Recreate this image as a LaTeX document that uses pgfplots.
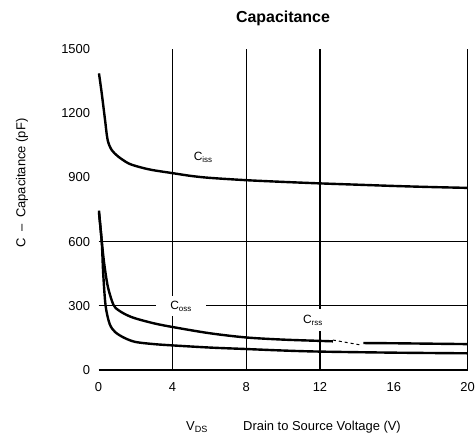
\documentclass[border=0pt]{standalone}
\usepackage{pgfplots}
\pgfplotsset{compat=1.18}
\usepackage{fontspec}
\setmainfont{Liberation Sans}
\begin{document}
\begin{tikzpicture}
\begin{axis}[
  at={(0,0)}, anchor=south west,
  scale only axis, width=369bp, height=321bp,
  xmin=0, xmax=20, ymin=0, ymax=1500,
  xtick={0,4,...,20}, ytick={0,300,...,1500},
  axis line style={draw=none},
  major tick length=0pt,
  tick label style={font=\fontsize{13}{15}\selectfont},
  /pgf/number format/assume math mode=true,
  /pgf/number format/1000 sep={},
  xticklabel style={yshift=-9bp},
  yticklabel style={xshift=-5bp},
  clip=false,
]
% grid
\draw[line width=1.4bp] (4,0) -- (4,1500);
\draw[line width=1.4bp] (8,0) -- (8,1500);
\draw[line width=1.4bp] (12,0) -- (12,1500);
\draw[line width=1.4bp] (20,0) -- (20,1500);
\draw[line width=1.4bp] (0,0) -- (20,0);
\draw[line width=1.4bp] (0,300) -- (20,300);
\draw[line width=1.4bp] (0,600) -- (20,600);
% Ciss
\addplot[black, line width=2.4bp, smooth, tension=0.5] coordinates {
  (0.02,1386) (0.17,1293) (0.35,1168) (0.49,1075) (0.71,1028) (1.07,997)
  (1.61,966) (2.15,950) (2.88,935) (4,920) (5,907) (6,898)
  (8,887) (10,879) (12,872) (14,866) (16,860) (18,855) (20,851)
};
% Coss
\addplot[black, line width=2.4bp, smooth, tension=0.5] coordinates {
  (0.02,745) (0.15,620) (0.3,500) (0.5,390) (0.8,305) (1.07,280)
  (1.5,258) (2,241) (3,218) (4,201) (6,172) (8,152) (10,142) (12,136) (12.7,134)
};
\addplot[black, line width=2.4bp] coordinates {
  (14.35,126) (16,125) (18,123) (20,121)
};
\addplot[black, line width=1bp, dashed] coordinates {
  (12.7,140) (14.2,117)
};
% Crss
\addplot[black, line width=2.4bp, smooth, tension=0.5] coordinates {
  (0.02,735) (0.17,600) (0.25,450) (0.38,300) (0.6,215) (0.9,177)
  (1.4,150) (2,131) (3,121) (4,115) (6,105) (8,98) (10,91) (12,86)
  (16,81) (20,78)
};
% curve labels
\node[font=\fontsize{12}{14}\selectfont] at (5.67,995) {C\textsubscript{iss}};
\node[fill=white, inner xsep=14bp, inner ysep=5bp,
      font=\fontsize{12}{14}\selectfont] at (4.47,299) {C\textsubscript{oss}};
\node[fill=white, inner xsep=2bp, inner ysep=6bp,
      font=\fontsize{12}{14}\selectfont] at (11.62,233) {C\textsubscript{rss}};
\end{axis}
\node[font=\fontsize{16}{18}\selectfont\bfseries] at (184.4bp,352bp) {Capacitance};
\node[rotate=90, font=\fontsize{13}{15}\selectfont] at (-76.6bp,187bp)
  {C\enspace--\enspace Capacitance (pF)};
\node[font=\fontsize{13}{15}\selectfont] at (98.4bp,-57bp) {V\textsubscript{DS}};
\node[font=\fontsize{13}{15}\selectfont] at (223.4bp,-57bp) {Drain to Source Voltage (V)};
\pgfresetboundingbox
\path[use as bounding box] (-98.6bp,-71bp) rectangle (376.4bp,370bp);
\end{tikzpicture}
\end{document}
